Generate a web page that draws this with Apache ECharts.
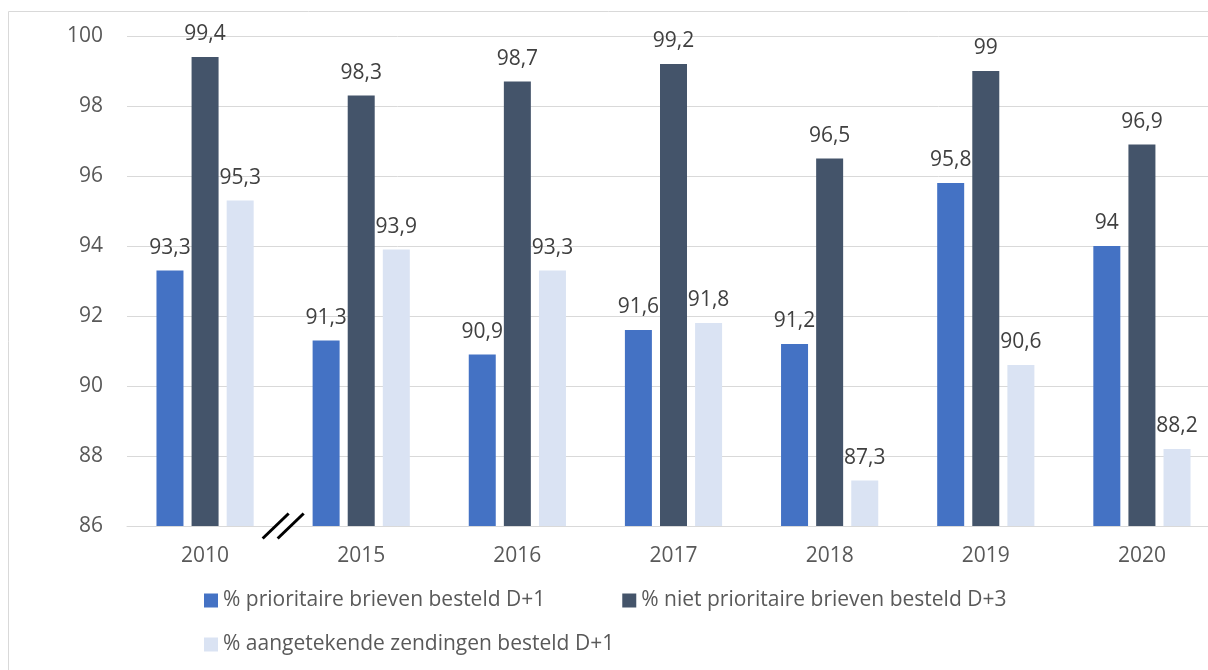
<!DOCTYPE html>
<html>
<head>
<meta charset="utf-8">
<script src="https://cdn.jsdelivr.net/npm/echarts@6/dist/echarts.min.js"></script>
<style>
  html, body { margin: 0; padding: 0; background: #fff; }
  #chart { width: 1208px; height: 670px; }
</style>
</head>
<body>
<div id="chart"></div>
<script>
// Years on the category axis (2010 followed by an axis break)
const years = ['2010', '2015', '2016', '2017', '2018', '2019', '2020'];

// Series names
const nameA = '% prioritaire brieven besteld D+1';
const nameB = '% niet prioritaire brieven besteld D+3';
const nameC = '% aangetekende zendingen besteld D+1';

// Percentages per year
const prioritaireD1 = [93.3, 91.3, 90.9, 91.6, 91.2, 95.8, 94];
const nietPrioritaireD3 = [99.4, 98.3, 98.7, 99.2, 96.5, 99, 96.9];
const aangetekendD1 = [95.3, 93.9, 93.3, 91.8, 87.3, 90.6, 88.2];

// Value axis range
const yMin = 86, yMax = 100, yStep = 2;

const FONT = '"Open Sans", "Liberation Sans", sans-serif';
const FS = 21;
const chart = echarts.init(document.getElementById('chart'));

const labelCfg = {
  show: true,
  position: 'top',
  distance: 12,
  color: '#404040',
  fontSize: FS,
  fontFamily: FONT,
  formatter: p => String(p.value).replace('.', ',')
};

function barSeries(name, data, color) {
  return {
    name, type: 'bar', data,
    barWidth: 27, barGap: '30%',
    itemStyle: { color },
    label: labelCfg
  };
}

const legendText = { color: '#595959', fontSize: FS, fontFamily: FONT };

chart.setOption({
  animation: false,
  // the plot runs slightly past the right edge of the canvas
  grid: {
    left: 127, top: 36, width: 1093, height: 490,
    containLabel: false, outerBoundsMode: 'none'
  },
  xAxis: {
    type: 'category',
    data: years,
    axisLine: { show: true, lineStyle: { color: '#d9d9d9', width: 1 } },
    axisTick: { show: false },
    axisLabel: { color: '#595959', fontSize: FS, fontFamily: FONT, margin: 20 }
  },
  yAxis: {
    type: 'value',
    min: yMin, max: yMax, interval: yStep,
    axisLine: { show: false },
    axisTick: { show: false },
    splitLine: { lineStyle: { color: '#d9d9d9', width: 1 } },
    axisLabel: { color: '#595959', fontSize: FS, fontFamily: FONT, margin: 24 }
  },
  legend: [
    {
      data: [nameA, nameB],
      left: 199, top: 585,
      itemWidth: 14, itemHeight: 14, itemGap: 77,
      icon: 'rect',
      textStyle: legendText
    },
    {
      data: [nameC],
      left: 199, top: 629,
      itemWidth: 14, itemHeight: 14,
      icon: 'rect',
      textStyle: legendText
    }
  ],
  series: [
    barSeries(nameA, prioritaireD1, '#4472C4'),
    barSeries(nameB, nietPrioritaireD3, '#44546A'),
    barSeries(nameC, aangetekendD1, '#DAE3F3')
  ]
});

// Outer frame and the axis-break marker between the first two years
function drawExtras() {
  const p0 = chart.convertToPixel({ xAxisIndex: 0, yAxisIndex: 0 }, [0, yMin]);
  const p1 = chart.convertToPixel({ xAxisIndex: 0, yAxisIndex: 0 }, [1, yMin]);
  const cx = (p0[0] + p1[0]) / 2;
  const cy = p0[1];
  const dx = 13, dy = 12.5, off = 7.5;
  chart.setOption({
    graphic: [
      {
        type: 'rect', z: -10, silent: true,
        shape: { x: 8.5, y: 11.5, width: 1400, height: 800 },
        style: { fill: 'none', stroke: '#d9d9d9', lineWidth: 1 }
      },
      {
        type: 'polygon', z: 50, silent: true,
        shape: { points: [
          [cx - off - dx, cy + dy], [cx - off + dx, cy - dy],
          [cx + off + dx, cy - dy], [cx + off - dx, cy + dy]
        ] },
        style: { fill: '#ffffff' }
      },
      {
        type: 'line', z: 51, silent: true,
        shape: { x1: cx - off - dx, y1: cy + dy, x2: cx - off + dx, y2: cy - dy },
        style: { stroke: '#000', lineWidth: 3 }
      },
      {
        type: 'line', z: 51, silent: true,
        shape: { x1: cx + off - dx, y1: cy + dy, x2: cx + off + dx, y2: cy - dy },
        style: { stroke: '#000', lineWidth: 3 }
      }
    ]
  });
}
drawExtras();
</script>
</body>
</html>
